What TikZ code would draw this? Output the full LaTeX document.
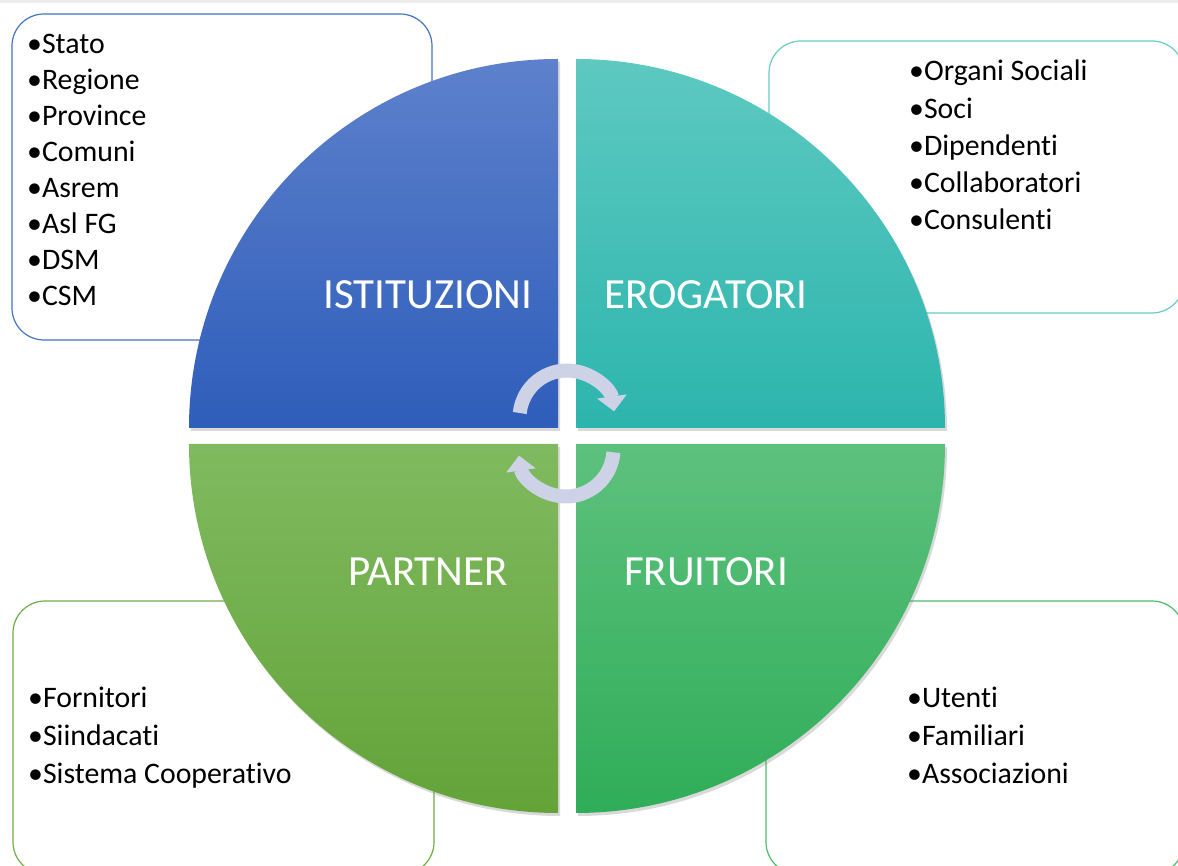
\documentclass[tikz,border=0pt]{standalone}
\usepackage{fontspec}
\setmainfont{Carlito}[Ligatures=NoCommon]
\usetikzlibrary{arrows.meta,shadows,positioning}

\definecolor{istitop}{HTML}{5D81CC}
\definecolor{istibot}{HTML}{2E5DBA}
\definecolor{erotop}{HTML}{5DC9C1}
\definecolor{erobot}{HTML}{2CB5AD}
\definecolor{partop}{HTML}{80BA60}
\definecolor{parbot}{HTML}{63A338}
\definecolor{frutop}{HTML}{5DC17D}
\definecolor{frubot}{HTML}{2FAD58}
\definecolor{istiline}{HTML}{4472C4}
\definecolor{eroline}{HTML}{66CCC5}
\definecolor{parline}{HTML}{70AD47}
\definecolor{fruline}{HTML}{4CBB6C}
\definecolor{arrowcol}{HTML}{CDD2E7}
\definecolor{topstrip}{HTML}{EDEDED}

\begin{document}
\begin{tikzpicture}[x=1pt,y=1pt]

    % let's define some key values
    \def\rq{369}
    \def\xl{558}
    \def\xr{576}
    \def\yt{438}
    \def\yb{422}
    \def\rarrow{47.5}
    \coordinate (ctl) at (\xl,\yt);
    \coordinate (ctr) at (\xr,\yt);
    \coordinate (cbl) at (\xl,\yb);
    \coordinate (cbr) at (\xr,\yb);
    % centres of the two turning arrows
    \coordinate (atop) at (567,448);
    \coordinate (abot) at (566,417);

    % Styles
    \tikzset{
        listbox/.style={rounded corners=32pt, line width=1.2pt},
        itemlist/.style={anchor=base west, align=left, inner sep=0pt},
        quadrant/.style={drop shadow={opacity=0.3, shadow xshift=2pt, shadow yshift=-3pt}},
        quadlabel/.style={text=white, inner sep=0pt, font=\fontsize{43}{50}\selectfont},
        cycarrow/.style={line width=14pt, arrowcol, -{Triangle[width=29pt,length=15pt]}}
    }

    \useasboundingbox (0,0) rectangle (1178,866);
    \fill[topstrip] (0,863) rectangle (1178,866);

    % boxes behind the circle
    \draw[listbox, istiline] (12,526) rectangle (432,852);
    \draw[listbox, eroline] (769,553) rectangle (1184,825);
    \draw[listbox, parline] (13,-8) rectangle (434,265);
    \draw[listbox, fruline] (766,-8) rectangle (1184,265);

    % lists (anchored at the baseline of the last line)
    \node[itemlist, font=\fontsize{29.8}{36}\selectfont] (istlist) at (27,560)
        {•Stato\\•Regione\\•Province\\•Comuni\\•Asrem\\•Asl FG\\•DSM\\•CSM};
    \node[itemlist, font=\fontsize{29.8}{37.25}\selectfont] (erolist) at (909,636)
        {•Organi Sociali\\•Soci\\•Dipendenti\\•Collaboratori\\•Consulenti};
    \node[itemlist, font=\fontsize{29.8}{38}\selectfont] (parlist) at (28,82)
        {•Fornitori\\•Siindacati\\•Sistema Cooperativo};
    \node[itemlist, font=\fontsize{29.8}{38}\selectfont] (frulist) at (907,82)
        {•Utenti\\•Familiari\\•Associazioni};

    % quadrants
    \path[quadrant, top color=istitop, bottom color=istibot]
        (ctl) -- ++(-\rq,0) arc (180:90:\rq) -- cycle;
    \path[quadrant, top color=erotop, bottom color=erobot]
        (ctr) -- ++(0,\rq) arc (90:0:\rq) -- cycle;
    \path[quadrant, top color=partop, bottom color=parbot]
        (cbl) -- ++(0,-\rq) arc (270:180:\rq) -- cycle;
    \path[quadrant, top color=frutop, bottom color=frubot]
        (cbr) -- ++(\rq,0) arc (0:-90:\rq) -- cycle;

    % quadrant labels
    \node[quadlabel] (isti) at (428,571) {ISTITUZIONI};
    \node[quadlabel] (ero) at (706,571) {EROGATORI};
    \node[quadlabel] (par) at (428,294) {PARTNER};
    \node[quadlabel] (fru) at (706,294) {FRUITORI};

    % turning arrows
    \draw[cycarrow] (atop) ++(174:\rarrow) arc (174:8:\rarrow);
    \draw[cycarrow] (abot) ++(-4:\rarrow) arc (-4:-172:\rarrow);

\end{tikzpicture}
\end{document}
